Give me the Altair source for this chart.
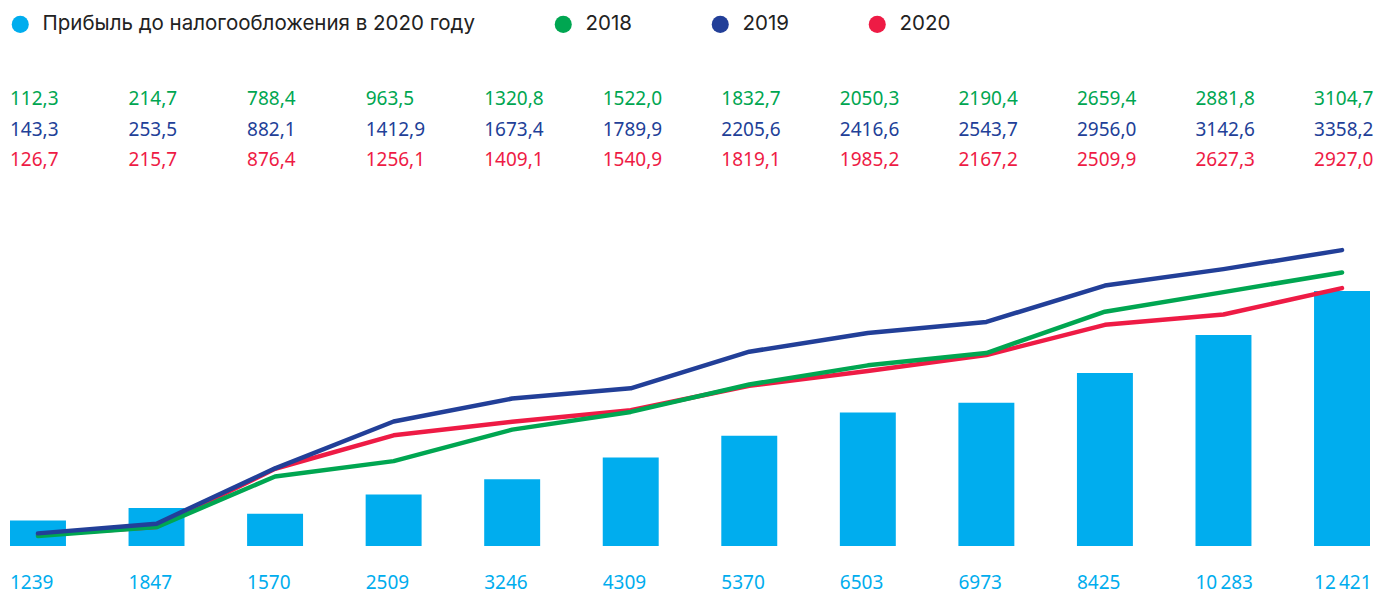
import altair as alt
import pandas as pd

categories = list(range(1, 13))
profit_2020 = [1239, 1847, 1570, 2509, 3246, 4309, 5370, 6503, 6973, 8425, 10283, 12421]
cum_2018 = [112.3, 214.7, 788.4, 963.5, 1320.8, 1522.0, 1832.7, 2050.3, 2190.4, 2659.4, 2881.8, 3104.7]
cum_2019 = [143.3, 253.5, 882.1, 1412.9, 1673.4, 1789.9, 2205.6, 2416.6, 2543.7, 2956.0, 3142.6, 3358.2]
cum_2020 = [126.7, 215.7, 876.4, 1256.1, 1409.1, 1540.9, 1819.1, 1985.2, 2167.2, 2509.9, 2627.3, 2927.0]

bar_name = "Прибыль до налогообложения в 2020 году"
series_names = [bar_name, "2018", "2019", "2020"]
series_colors = ["#00ADEE", "#00A651", "#223F98", "#EE1B45"]

FONT = "Noto Sans"
LEGEND_FONT = "Inter"
FS = 19

bars_df = pd.DataFrame({"cat": categories, "value": profit_2020, "series": bar_name})
wide = pd.DataFrame({"cat": categories, "y2018": cum_2018, "y2019": cum_2019,
                     "y2020": cum_2020, "bar": profit_2020})
lines_df = pd.concat([
    pd.DataFrame({"cat": categories, "value": cum_2020, "series": "2020", "ord": 0}),
    pd.DataFrame({"cat": categories, "value": cum_2018, "series": "2018", "ord": 1}),
    pd.DataFrame({"cat": categories, "value": cum_2019, "series": "2019", "ord": 2}),
])

W, H = 1366, 590
xscale = alt.Scale(range=[2, 1362], paddingInner=0.528, paddingOuter=0)
color_scale = alt.Scale(domain=series_names, range=series_colors)

bars = alt.Chart(bars_df).mark_bar(opacity=1).encode(
    x=alt.X("cat:O", scale=xscale, axis=None),
    y=alt.Y("value:Q", scale=alt.Scale(domain=[0, 14612], range=[538, 238], nice=False, zero=True), axis=None),
    color=alt.Color("series:N", scale=color_scale, sort=series_names,
                    legend=alt.Legend(orient="none", legendX=2, legendY=6, direction="horizontal",
                                      columns=4, title=None, symbolType="circle", symbolSize=290,
                                      symbolStrokeWidth=0, symbolOpacity=1, labelFont=LEGEND_FONT,
                                      labelFontSize=20.5, labelColor="#222222", labelOffset=12,
                                      columnPadding=78, padding=0, labelLimit=600)),
)

lines = alt.Chart(lines_df).mark_line(strokeWidth=4.5, strokeCap="round", strokeJoin="round").encode(
    x=alt.X("cat:O", scale=xscale, axis=None),
    y=alt.Y("value:Q", scale=alt.Scale(domain=[0, 3405], range=[538, 238], nice=False, zero=True), axis=None),
    color=alt.Color("series:N", scale=color_scale, legend=None),
    detail="series:N",
    order=alt.Order("ord:Q"),
)

def row(color, ypix, expr):
    return alt.Chart(wide).transform_calculate(lab=expr).mark_text(
        align="left", baseline="middle", font=FONT, fontSize=FS, color=color
    ).encode(
        x=alt.X("cat:O", scale=xscale, axis=None, bandPosition=0),
        y=alt.value(ypix),
        text="lab:N",
    )

dec = lambda f: f"replace(format(datum.{f}, '.1f'), '.', ',')"
t18 = row(series_colors[1], 91, dec("y2018"))
t19 = row(series_colors[2], 122, dec("y2019"))
t20 = row(series_colors[3], 152, dec("y2020"))
tbar = row(series_colors[0], 575,
           "datum.bar >= 10000 ? replace(format(datum.bar, ',d'), ',', '\u202f') : format(datum.bar, 'd')")

chart = alt.layer(bars, lines, t18, t19, t20, tbar).resolve_scale(y="independent").properties(
    width=W, height=H, autosize=alt.AutoSizeParams(type="none"), padding=0
).configure_view(stroke=None)

chart.save("out.html", embed_options={"renderer": "svg", "actions": False})
